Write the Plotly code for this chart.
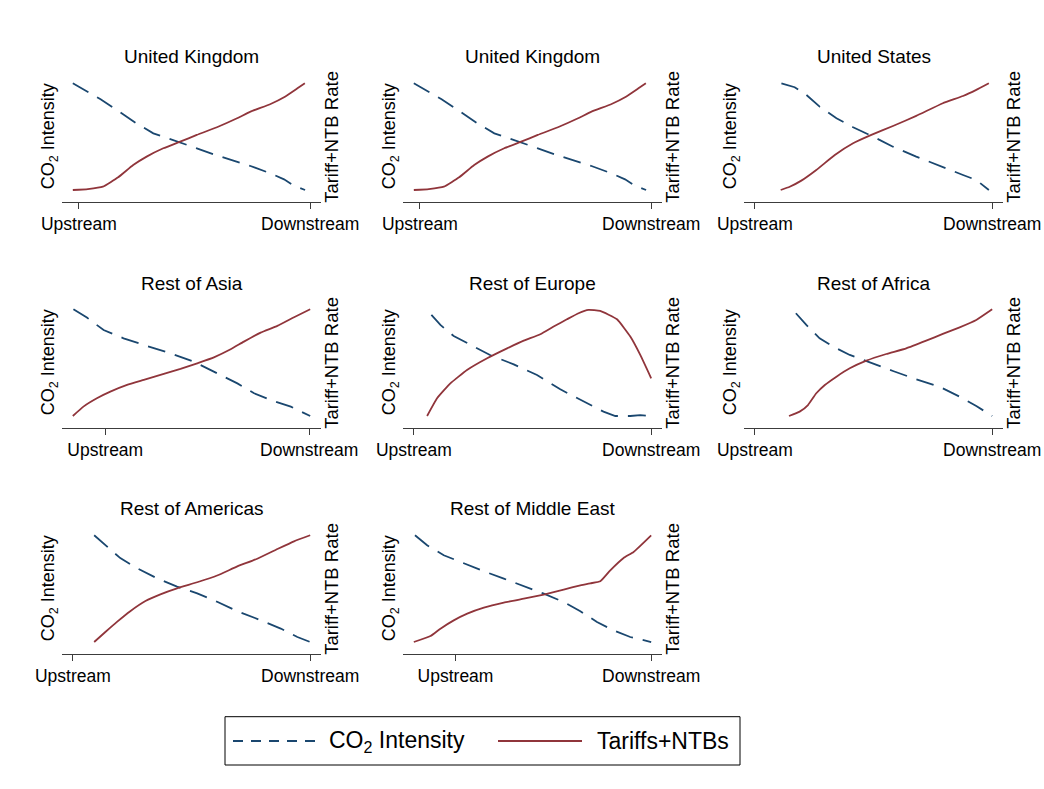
import plotly.graph_objects as go

# ---------------- data (x: 0 = Upstream, 1 = Downstream; y: index, 0 = min, 1 = max) -------------
titles = ["United Kingdom", "United Kingdom", "United States", "Rest of Asia",
          "Rest of Europe", "Rest of Africa", "Rest of Americas", "Rest of Middle East"]
tick_labels = ["Upstream", "Downstream"]
tick_vals = [0, 1]

uk_tar_x = [-0.026, 0.039, 0.104, 0.170, 0.235, 0.293, 0.365, 0.438, 0.510, 0.597, 0.684, 0.742, 0.829, 0.887, 0.945, 0.977]
uk_tar_y = [0.0, 0.009, 0.031, 0.119, 0.234, 0.313, 0.391, 0.453, 0.516, 0.588, 0.672, 0.734, 0.806, 0.869, 0.953, 1.0]
uk_co2_x = [-0.026, 0.094, 0.170, 0.249, 0.322, 0.430, 0.510, 0.583, 0.670, 0.742, 0.829, 0.887, 0.930, 0.978]
uk_co2_y = [1.0, 0.850, 0.741, 0.625, 0.531, 0.453, 0.391, 0.334, 0.275, 0.225, 0.156, 0.100, 0.041, 0.0]

us_tar_x = [0.109, 0.147, 0.196, 0.259, 0.337, 0.414, 0.491, 0.582, 0.680, 0.792, 0.877, 0.933, 0.986]
us_tar_y = [0.0, 0.031, 0.088, 0.188, 0.328, 0.438, 0.516, 0.600, 0.694, 0.813, 0.881, 0.938, 1.0]
us_co2_x = [0.112, 0.168, 0.217, 0.273, 0.344, 0.414, 0.498, 0.582, 0.680, 0.778, 0.877, 0.933, 0.986]
us_co2_y = [1.0, 0.963, 0.891, 0.781, 0.672, 0.588, 0.500, 0.406, 0.313, 0.225, 0.141, 0.094, 0.0]

asia_tar_x = [-0.159, -0.107, -0.041, 0.025, 0.107, 0.189, 0.287, 0.369, 0.451, 0.533, 0.615, 0.680, 0.762, 0.844, 0.926, 1.005]
asia_tar_y = [0.0, 0.088, 0.166, 0.228, 0.291, 0.338, 0.394, 0.441, 0.494, 0.550, 0.625, 0.697, 0.781, 0.844, 0.925, 1.0]
asia_co2_x = [-0.156, -0.090, -0.008, 0.090, 0.205, 0.320, 0.434, 0.549, 0.648, 0.730, 0.811, 0.910, 1.005]
asia_co2_y = [1.0, 0.922, 0.806, 0.728, 0.656, 0.588, 0.509, 0.400, 0.306, 0.213, 0.150, 0.088, 0.0]

eur_tar_x = [0.056, 0.098, 0.154, 0.224, 0.309, 0.393, 0.463, 0.533, 0.589, 0.645, 0.694, 0.736, 0.785, 0.856, 0.912, 0.954, 1.0]
eur_tar_y = [0.0, 0.166, 0.306, 0.431, 0.541, 0.634, 0.706, 0.766, 0.838, 0.906, 0.963, 0.994, 0.984, 0.906, 0.744, 0.572, 0.353]
eur_co2_x = [0.074, 0.112, 0.168, 0.238, 0.323, 0.421, 0.519, 0.617, 0.715, 0.799, 0.849, 0.912, 0.954, 1.0]
eur_co2_y = [0.947, 0.853, 0.750, 0.666, 0.569, 0.484, 0.384, 0.250, 0.134, 0.041, 0.0, 0.0, 0.009, 0.0]

afr_tar_x = [0.144, 0.189, 0.224, 0.259, 0.295, 0.344, 0.400, 0.470, 0.554, 0.638, 0.722, 0.792, 0.863, 0.933, 1.0]
afr_tar_y = [0.0, 0.041, 0.103, 0.213, 0.291, 0.369, 0.447, 0.519, 0.581, 0.634, 0.706, 0.769, 0.831, 0.900, 1.0]
afr_co2_x = [0.173, 0.217, 0.273, 0.330, 0.400, 0.484, 0.582, 0.680, 0.778, 0.863, 0.933, 1.0]
afr_co2_y = [0.963, 0.853, 0.728, 0.650, 0.572, 0.500, 0.422, 0.344, 0.275, 0.181, 0.094, 0.0]

amer_tar_x = [0.090, 0.137, 0.186, 0.242, 0.306, 0.369, 0.439, 0.524, 0.608, 0.693, 0.777, 0.862, 0.932, 1.0]
amer_tar_y = [0.0, 0.094, 0.189, 0.289, 0.384, 0.447, 0.503, 0.560, 0.623, 0.708, 0.780, 0.871, 0.943, 1.0]
amer_co2_x = [0.090, 0.144, 0.200, 0.270, 0.355, 0.439, 0.524, 0.608, 0.693, 0.792, 0.876, 0.946, 1.0]
amer_co2_y = [1.0, 0.896, 0.786, 0.692, 0.597, 0.519, 0.456, 0.377, 0.289, 0.204, 0.126, 0.047, 0.0]

me_tar_x = [-0.213, -0.128, -0.077, -0.009, 0.060, 0.145, 0.247, 0.349, 0.451, 0.553, 0.638, 0.689, 0.740, 0.791, 0.859, 0.910, 1.0]
me_tar_y = [0.0, 0.056, 0.125, 0.203, 0.266, 0.322, 0.369, 0.406, 0.444, 0.491, 0.531, 0.550, 0.569, 0.672, 0.788, 0.844, 1.0]
me_co2_x = [-0.207, -0.145, -0.060, 0.043, 0.145, 0.247, 0.349, 0.451, 0.553, 0.638, 0.723, 0.808, 0.893, 1.0]
me_co2_y = [1.0, 0.906, 0.813, 0.734, 0.663, 0.594, 0.525, 0.453, 0.375, 0.288, 0.188, 0.109, 0.047, 0.0]

panels = [
    (uk_co2_x, uk_co2_y, uk_tar_x, uk_tar_y),
    (uk_co2_x, uk_co2_y, uk_tar_x, uk_tar_y),
    (us_co2_x, us_co2_y, us_tar_x, us_tar_y),
    (asia_co2_x, asia_co2_y, asia_tar_x, asia_tar_y),
    (eur_co2_x, eur_co2_y, eur_tar_x, eur_tar_y),
    (afr_co2_x, afr_co2_y, afr_tar_x, afr_tar_y),
    (amer_co2_x, amer_co2_y, amer_tar_x, amer_tar_y),
    (me_co2_x, me_co2_y, me_tar_x, me_tar_y),
]

# ---------------- styling / layout ----------------
W, H = 1044, 789
BLUE = "#1a476f"
RED = "#90353b"
AXC = "#3c3c3c"
FONT = "Arial, Liberation Sans, sans-serif"
col_left = [62.3, 403.3, 744.3]
row_bottom = [202.3, 428.3, 654.3]
pw, ph = 258.4, 131.3
YR = [-0.115, 1.115]

fig = go.Figure()
annotations = []
shapes = []

for i, (cx, cy, tx, ty) in enumerate(panels):
    r, c = divmod(i, 3)
    L = col_left[c]
    B = row_bottom[r]
    n = i + 1
    xa = "x" if n == 1 else f"x{n}"
    ya = "y" if n == 1 else f"y{n}"
    fig.add_trace(go.Scatter(x=cx, y=cy, mode="lines", xaxis=xa, yaxis=ya,
                             line=dict(color=BLUE, width=1.8, dash="18px,10px"),
                             showlegend=False, name="CO2 Intensity"))
    fig.add_trace(go.Scatter(x=tx, y=ty, mode="lines", xaxis=xa, yaxis=ya,
                             line=dict(color=RED, width=1.8, shape="spline", smoothing=0.4),
                             showlegend=False, name="Tariffs+NTBs"))
    lo = min(0, min(cx), min(tx))
    hi = max(1, max(cx), max(tx))
    m = (hi - lo) * 10.5 / 237
    xkey = "xaxis" if n == 1 else f"xaxis{n}"
    ykey = "yaxis" if n == 1 else f"yaxis{n}"
    fig.layout[xkey] = dict(domain=[L / W, (L + pw) / W], range=[lo - m, hi + m],
                            anchor=ya, showline=True, linecolor=AXC, linewidth=1,
                            ticks="outside", ticklen=6, tickcolor=AXC, tickwidth=1,
                            tickvals=tick_vals, ticktext=tick_labels, automargin=False,
                            tickfont=dict(size=17.5, color="#000", family=FONT),
                            showgrid=False, zeroline=False, fixedrange=True)
    fig.layout[ykey] = dict(domain=[(H - B) / H, (H - B + ph) / H], range=YR,
                            anchor=xa, showline=False, showticklabels=False, automargin=False,
                            ticks="", showgrid=False, zeroline=False, fixedrange=True)
    # panel title
    annotations.append(dict(text=titles[i], x=(L + pw / 2) / W, y=(H - (B - ph - 14)) / H,
                            xref="paper", yref="paper", xanchor="center", yanchor="middle",
                            showarrow=False, font=dict(size=19, color="#000", family=FONT)))
    annotations.append(dict(text="CO<sub>2</sub> Intensity", x=(L - 12.6) / W, y=(H - (B - ph / 2)) / H,
                            xref="paper", yref="paper", xanchor="center", yanchor="middle",
                            textangle=-90, showarrow=False, font=dict(size=18, color="#000", family=FONT)))
    annotations.append(dict(text="Tariff+NTB Rate", x=(L + pw + 10.5) / W, y=(H - (B - ph / 2)) / H,
                            xref="paper", yref="paper", xanchor="center", yanchor="middle",
                            textangle=-90, showarrow=False, font=dict(size=18.5, color="#000", family=FONT)))

# legend (drawn manually to match the long line samples)
LY = 741
shapes.append(dict(type="rect", xref="paper", yref="paper", x0=225 / W, x1=740 / W,
                   y0=(H - 765) / H, y1=(H - 716.7) / H, line=dict(color="#000", width=1)))
shapes.append(dict(type="line", xref="paper", yref="paper", x0=233 / W, x1=318 / W,
                   y0=(H - LY) / H, y1=(H - LY) / H, line=dict(color=BLUE, width=1.8, dash="10px,8px")))
shapes.append(dict(type="line", xref="paper", yref="paper", x0=498 / W, x1=582 / W,
                   y0=(H - LY) / H, y1=(H - LY) / H, line=dict(color=RED, width=1.8)))
annotations.append(dict(text="CO<sub>2</sub> Intensity", x=327 / W, y=(H - LY) / H, xref="paper", yref="paper",
                        xanchor="left", yanchor="middle", showarrow=False,
                        font=dict(size=23, color="#000", family=FONT)))
annotations.append(dict(text="Tariffs+NTBs", x=595 / W, y=(H - LY) / H, xref="paper", yref="paper",
                        xanchor="left", yanchor="middle", showarrow=False,
                        font=dict(size=23, color="#000", family=FONT)))

fig.update_layout(width=W, height=H, margin=dict(l=0, r=0, t=0, b=0, pad=0, autoexpand=False),
                  paper_bgcolor="white", plot_bgcolor="white",
                  annotations=annotations, shapes=shapes, showlegend=False,
                  font=dict(family=FONT, color="#000"))

fig.write_html("out.html", config={"displayModeBar": False},
               post_script="document.body.style.margin='0px';")
